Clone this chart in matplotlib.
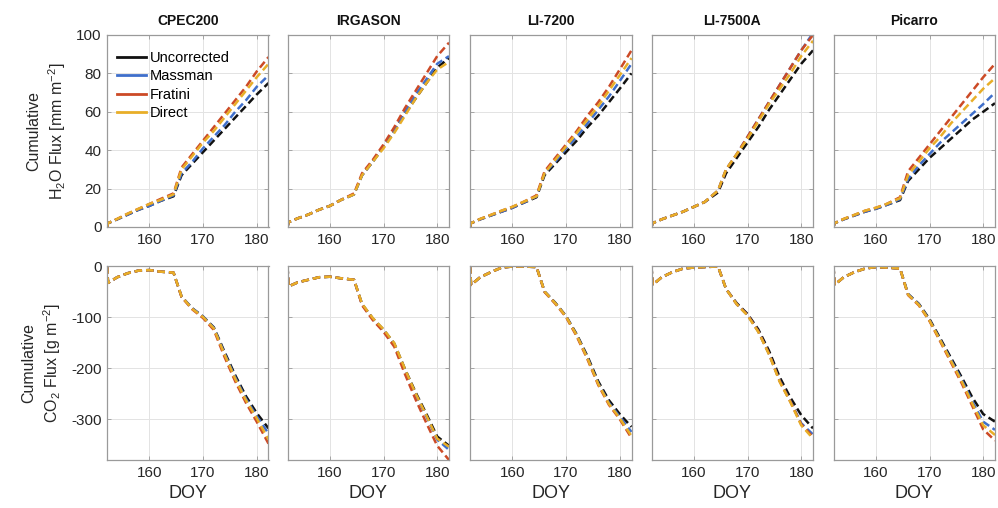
import numpy as np
import matplotlib
matplotlib.use("Agg")
import matplotlib.pyplot as plt
from matplotlib.lines import Line2D

plt.rcParams["font.family"] = ["Liberation Sans", "DejaVu Sans"]
plt.rcParams["mathtext.default"] = "regular"
plt.rcParams["axes.unicode_minus"] = False

#%% Datos
instruments = ["CPEC200", "IRGASON", "LI-7200", "LI-7500A", "Picarro"]
series = ["Uncorrected", "Massman", "Fratini", "Direct"]
colors = ["#111111", "#3f6fcb", "#cc4a26", "#e8ae28"]

doy = [152.1, 152.3, 154, 156, 158, 160, 162, 164.5, 166, 168, 170, 172, 174, 176, 178, 180, 182.2]

# H2O acumulado [mm m-2], filas: Uncorrected, Massman, Fratini, Direct
h2o_cpec200 = [
    [0, 2, 4, 6.5, 9, 11, 13.5, 16, 27, 33, 39, 45, 51, 57, 63, 69, 75],
    [0, 2, 4, 6.5, 9, 11, 13.5, 16.5, 28, 34, 41, 47, 53, 60, 66, 73, 79],
    [0, 2, 4.2, 7, 9.5, 12, 14.5, 17.5, 31, 38, 45, 52, 59, 66, 73, 81, 88.5],
    [0, 2, 4.2, 7, 9.5, 12, 14, 17, 30, 37, 44, 50, 57, 64, 71, 78, 85],
]
h2o_irgason = [
    [0, 2.5, 4.5, 6.5, 9, 11, 14, 17, 27, 34, 42, 50, 59, 67, 75, 83, 88],
    [0, 2.5, 4.5, 6.5, 9, 11, 14, 17, 27, 34, 42, 50, 60, 69, 77, 85, 89],
    [0, 2.5, 4.5, 6.5, 9, 11, 14, 17.5, 28, 35, 43, 52, 62, 71, 80, 89, 96],
    [0, 2.5, 4.5, 6.5, 9, 11, 14, 17, 27, 34, 41, 49, 58, 67, 75, 82, 86],
]
h2o_li7200 = [
    [0, 2, 4, 6, 8, 10, 12.5, 15.5, 27, 33, 39, 45, 52, 58, 65, 72, 80],
    [0, 2, 4, 6, 8, 10, 12.5, 16, 28, 34, 41, 47, 54, 61, 68, 76, 85],
    [0, 2, 4.2, 6.3, 8.5, 10.5, 13, 16.5, 29, 36, 43, 50, 58, 65, 73, 82, 92],
    [0, 2, 4.2, 6.3, 8.5, 10.5, 13, 16, 28, 35, 42, 49, 56, 63, 71, 79, 88],
]
h2o_li7500a = [
    [0, 2, 4, 6, 8, 10.5, 13, 18, 28, 36, 44, 52, 61, 69, 77, 85, 92],
    [0, 2, 4, 6, 8, 10.5, 13, 19, 30, 38, 47, 56, 65, 74, 83, 92, 101],
    [0, 2, 4, 6, 8, 10.5, 13, 19, 30, 38, 47, 56, 65, 74, 83, 92, 100],
    [0, 2, 4, 6, 8, 10.5, 13, 19, 30, 38, 46, 55, 64, 72, 80, 89, 97],
]
h2o_picarro = [
    [0, 2, 4, 6, 8, 9.5, 11.5, 14, 24, 30, 36, 41, 46, 51, 56, 60, 64.5],
    [0, 2, 4, 6, 8, 9.5, 11.5, 14.5, 25, 32, 38, 44, 49, 54, 59, 64, 70],
    [0, 2, 4.2, 6.3, 8.5, 10, 12, 15.5, 29, 36, 43, 50, 57, 64, 71, 78, 85],
    [0, 2, 4.2, 6.3, 8.5, 10, 12, 15, 27, 34, 41, 47, 54, 60, 66, 72, 77.5],
]

# CO2 acumulado [g m-2]
co2_cpec200 = [
    [0, -33, -22, -14, -9, -8, -11, -13, -60, -83, -99, -120, -168, -214, -255, -288, -318],
    [0, -33, -22, -14, -9, -8, -11, -13, -60, -83, -99, -121, -171, -218, -260, -294, -328],
    [0, -33, -22, -14, -9, -8, -11, -13, -61, -85, -102, -125, -178, -226, -268, -305, -348],
    [0, -33, -22, -14, -9, -8, -11, -13, -60, -84, -100, -122, -173, -221, -263, -298, -340],
]
co2_irgason = [
    [0, -40, -32, -27, -22, -21, -24, -27, -75, -103, -125, -152, -202, -248, -290, -334, -352],
    [0, -40, -32, -27, -22, -21, -24, -27, -75, -103, -125, -153, -204, -252, -295, -340, -360],
    [0, -40, -32, -27, -22, -21, -24, -27, -77, -106, -129, -158, -212, -262, -308, -352, -380],
    [0, -40, -32, -27, -22, -21, -24, -27, -74, -102, -124, -151, -202, -250, -293, -338, -354],
]
co2_li7200 = [
    [0, -37, -22, -12, -3, -1, -1, -2, -50, -72, -98, -134, -177, -226, -263, -290, -315],
    [0, -37, -22, -12, -3, -1, -1, -2, -50, -73, -99, -136, -180, -230, -268, -295, -325],
    [0, -37, -22, -12, -3, -1, -1, -2, -51, -74, -100, -138, -183, -233, -272, -300, -337],
    [0, -37, -22, -12, -3, -1, -1, -2, -50, -73, -99, -136, -181, -231, -270, -298, -333],
]
co2_li7500a = [
    [0, -37, -22, -12, -5, -3, -2, -1, -45, -73, -94, -124, -166, -218, -258, -292, -318],
    [0, -37, -22, -12, -5, -3, -2, -1, -45, -75, -96, -128, -172, -225, -265, -308, -330],
    [0, -37, -22, -12, -5, -3, -2, -1, -45, -75, -96, -128, -172, -226, -266, -310, -335],
    [0, -37, -22, -12, -5, -3, -2, -1, -45, -75, -97, -129, -173, -227, -267, -312, -338],
]
co2_picarro = [
    [0, -37, -22, -12, -5, -2, -3, -5, -55, -74, -104, -142, -180, -218, -258, -290, -305],
    [0, -37, -22, -12, -5, -2, -3, -5, -55, -75, -106, -145, -184, -223, -266, -305, -321],
    [0, -37, -22, -12, -5, -2, -3, -5, -57, -77, -108, -148, -189, -230, -275, -320, -342],
    [0, -37, -22, -12, -5, -2, -3, -5, -56, -76, -107, -146, -186, -226, -270, -312, -331],
]

h2o_all = [h2o_cpec200, h2o_irgason, h2o_li7200, h2o_li7500a, h2o_picarro]
co2_all = [co2_cpec200, co2_irgason, co2_li7200, co2_li7500a, co2_picarro]

#%% Figura
W, H = 998, 508
fig = plt.figure(figsize=(W / 100, H / 100), dpi=100)

lefts = [107, 287.5, 470, 651.5, 833.5]
width = 161.5
tick_col = "#262626"


def style_axis(ax):
    for s in ax.spines.values():
        s.set_color("#9a9a9a")
        s.set_linewidth(0.9)
    ax.tick_params(direction="in", length=3, width=0.6, color="#9a9a9a",
                   top=True, right=True, labelsize=11, labelcolor=tick_col, pad=4)
    ax.grid(True, color="#e3e3e3", linewidth=0.7)
    ax.set_axisbelow(True)
    ax.set_xlim(152.1, 182.2)
    ax.set_xticks([160, 170, 180])


for i, name in enumerate(instruments):
    ax1 = fig.add_axes([lefts[i] / W, (H - 227) / H, width / W, 192 / H])
    ax2 = fig.add_axes([lefts[i] / W, (H - 460) / H, width / W, 194 / H])
    style_axis(ax1)
    style_axis(ax2)

    for k in range(4):
        ax1.plot(doy, h2o_all[i][k], color=colors[k], linewidth=1.8,
                 linestyle=(0, (3.0, 1.6)))
        ax2.plot(doy, co2_all[i][k], color=colors[k], linewidth=1.8,
                 linestyle=(0, (3.0, 1.6)))

    ax1.set_ylim(0, 100)
    ax1.set_yticks([0, 20, 40, 60, 80, 100])
    ax2.set_ylim(-380, 0)
    ax2.set_yticks([-300, -200, -100, 0])
    ax1.set_title(name, fontsize=10, fontweight="bold", color="#111111", pad=7)
    ax2.set_xlabel("DOY", fontsize=13, color=tick_col, labelpad=4)

    if i == 0:
        ax1.set_ylabel("Cumulative\nH$_2$O Flux [mm m$^{-2}$]", fontsize=11.5,
                       color=tick_col, labelpad=6, linespacing=1.3)
        ax2.set_ylabel("Cumulative\nCO$_2$ Flux [g m$^{-2}$]", fontsize=11.5,
                       color=tick_col, labelpad=6, linespacing=1.3)
        handles = [Line2D([0], [0], color=c, linewidth=2) for c in colors]
        ax1.legend(handles, series, loc="upper left", bbox_to_anchor=(0.0, 0.97),
                   frameon=False, fontsize=10.5, handlelength=2.0,
                   handletextpad=0.25, labelspacing=0.3, borderaxespad=0.3)
    else:
        ax1.set_yticklabels([])
        ax2.set_yticklabels([])

fig.savefig("out.png", dpi=100)
